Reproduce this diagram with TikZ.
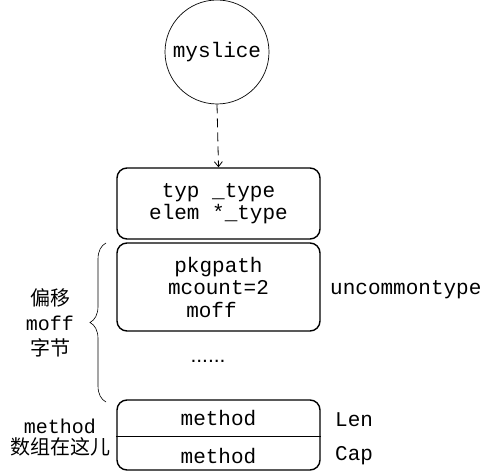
\documentclass[tikz,border=0pt]{standalone}
\usepackage{fontspec}
\setmainfont{Liberation Mono}
\setsansfont{Liberation Sans}
\newfontfamily\cjk{Noto Sans CJK SC}
\usepackage{tikz}
\usetikzlibrary{decorations.pathreplacing,arrows.meta}

\tikzset{
	field/.style={draw,line width=1.4pt,rounded corners=10pt,minimum width=203pt,align=center,inner sep=0pt},
	lbl/.style={align=center,inner sep=0pt}
}

\begin{document}
\begin{tikzpicture}[x=1pt,y=1pt,font=\fontsize{21}{22.5}\selectfont]
	\useasboundingbox (0,0) rectangle (494,474);
	\node[draw,circle,line width=0.7pt,minimum size=104pt,inner sep=0pt] (slice) at (217,422) {myslice};
	\node[field,minimum height=71pt] (typ) at (218.5,270.5) {typ \_type\\elem *\_type};
	\node[field,minimum height=88pt] (uncommon) at (218.5,187) {pkgpath\\mcount=2\\moff\hspace*{14pt}};
	\node[field,minimum height=70pt] (methods) at (218.5,39) {};
	\draw[line width=0.8pt] (methods.west |- 0,38) -- (methods.east |- 0,38);
	\draw[dash pattern=on 9pt off 5pt,-{Straight Barb[length=5pt,width=8pt]},line width=0.8pt] (slice.south) -- (typ.north);
	\node[lbl] (len) at (218.5,56) {method};
	\node[lbl] (cap) at (218.5,18) {method};
	\node[lbl,font=\sffamily\fontsize{21}{22.5}\selectfont] (dots) at (208,113) {......};
	\node[lbl,anchor=west] (uncommonname) at (330,184) {uncommontype};
	\node[lbl,anchor=west] (lenname) at (335,54) {Len};
	\node[lbl,anchor=west] (capname) at (335,18) {Cap};
	% moff offset
	\draw[decorate,decoration={brace,amplitude=16pt},line width=0.6pt] (106,72) -- (106,231);
	\node[lbl,font=\fontsize{20}{25}\selectfont] (offset) at (50,151) {{\cjk 偏移}\\moff\\{\cjk 字节}};
	\node[lbl,font=\fontsize{20}{21}\selectfont] (arrayhere) at (60,36) {method\\{\cjk 数组在这儿}};
\end{tikzpicture}
\end{document}
